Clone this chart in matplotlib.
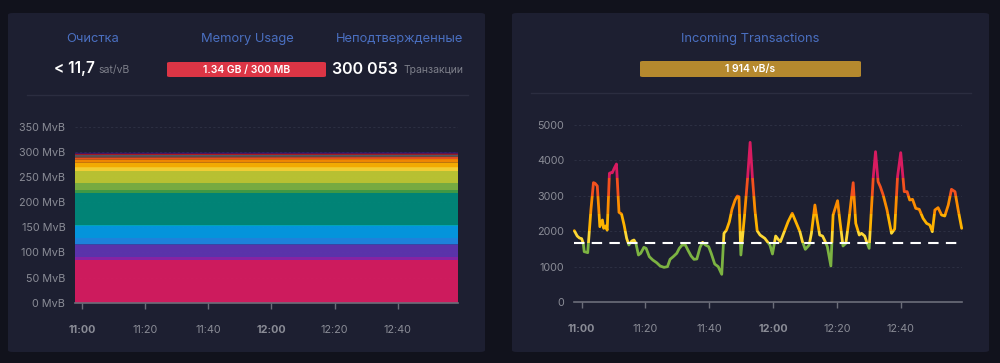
import numpy as np
import matplotlib
matplotlib.use('Agg')
from matplotlib import pyplot as plt
from matplotlib.patches import FancyBboxPatch, Rectangle
from matplotlib.lines import Line2D

plt.rcParams['font.family'] = ['Inter', 'DejaVu Sans']

# ---------------- data ----------------
# mempool fee bands (MvB), bottom -> top, read at 11:00 and at 12:59
band_colors = ['#D81B60', '#8E24AA', '#5E35B1', '#3949AB', '#1E88E5', '#039BE5',
               '#00ACC1', '#00897B', '#43A047', '#7CB342', '#C0CA33', '#FDD835',
               '#FFB300', '#FB8C00', '#F4511E', '#6D4C41', '#757575', '#546E7A',
               '#b71c1c', '#880E4F', '#4A148C', '#311B92']
mem_start = [85, 6.5, 23, 1.5, 12, 25.5, 1, 63, 6.5, 13.4, 25, 6.8,
             9.1, 6.7, 4, 2, 1, 1.5, 2, 1, 0.8, 0.8]
mem_end = [85, 6.5, 23, 1.5, 12, 25.5, 1, 63, 6.5, 13.4, 25, 6.8,
           9.6, 6.9, 4, 2, 1, 1.5, 2, 1, 0.8, 0.8]
mem_times = [-2.2, 119.1]  # minutes after 11:00

# incoming transactions (vB/s), minutes after 11:00
tx_times = [-2.3, -1.4, -0.7, 0.0, 0.5, 0.8, 1.9, 2.9, 3.7, 4.2, 4.9, 5.7, 6.5, 6.9,
            7.5, 8.0, 8.7, 9.1, 9.6, 10.2, 10.9, 11.7, 12.5, 13.3, 14.1, 14.8, 15.7,
            16.4, 17.0, 17.8, 18.5, 19.5, 20.2, 21.2, 22.3, 23.5, 24.6, 25.8, 26.9,
            27.7, 28.7, 29.8, 30.6, 31.5, 32.5, 33.4, 34.3, 35.2, 36.1, 37.1, 37.9,
            38.8, 39.8, 40.6, 41.7, 42.8, 43.9, 44.6, 45.4, 46.3, 47.1, 48.1, 48.8,
            49.3, 49.9, 51.0, 52.0, 52.8, 53.5, 54.3, 55.0, 55.9, 57.4, 59.0, 59.8,
            60.8, 61.6, 62.3, 63.7, 64.7, 66.0, 67.1, 68.4, 69.2, 70.1, 71.3, 72.0,
            73.1, 73.8, 74.6, 75.5, 76.2, 77.0, 78.1, 78.8, 80.2, 80.9, 81.9, 82.8,
            83.7, 85.1, 85.9, 87.0, 87.7, 88.7, 89.3, 90.1, 90.8, 91.4, 92.1, 92.9,
            93.6, 94.5, 95.7, 97.1, 98.1, 99.0, 100.0, 101.1, 102.0, 102.8, 103.7,
            104.7, 105.8, 107.0, 108.1, 109.1, 109.9, 110.7, 111.7, 112.8, 113.8,
            114.9, 115.9, 117.0, 118.0, 119.1]
tx_vsize = [2015, 1864, 1808, 1789, 1657, 1422, 1394, 2599, 3371, 3352, 3277, 2128,
            2316, 2081, 2150, 2030, 3635, 3653, 3650, 3776, 3898, 2533, 2486, 2175,
            1798, 1610, 1723, 1751, 1657, 1328, 1375, 1544, 1516, 1281, 1186, 1111,
            1017, 979, 998, 1205, 1281, 1375, 1516, 1610, 1610, 1450, 1300, 1205,
            1215, 1544, 1685, 1610, 1563, 1375, 1073, 998, 782, 1940, 2034, 2269,
            2618, 2881, 2994, 2975, 1328, 2400, 3500, 4510, 3540, 2600, 2015, 1893,
            1798, 1610, 1356, 1864, 1770, 1704, 2034, 2269, 2505, 2269, 1987, 1704,
            1488, 1610, 1940, 2740, 2316, 1893, 1864, 1733, 1563, 1017, 2458, 2862,
            2316, 1582, 1657, 2269, 3371, 2222, 1893, 1940, 1864, 1704, 1516, 2599,
            3540, 4247, 3399, 3258, 3022, 2599, 1940, 2062, 3540, 4219, 3117, 3117,
            2881, 2900, 2646, 2618, 2363, 2222, 2175, 1987, 2599, 2665, 2458, 2429,
            2740, 3183, 3117, 2599, 2081]
tx_target = 1667

# colour pieces for the incoming line (lower, upper, colour)
tx_pieces = [(0, 1667, '#7CB342'), (1667, 2000, '#FDD835'), (2000, 2500, '#FFB300'),
             (2500, 3000, '#FB8C00'), (3000, 3500, '#F4511E'), (3500, 6000, '#D81B60')]

tick_pos = [0, 20, 40, 60, 80, 100]
tick_lab = ['11:00', '11:20', '11:40', '12:00', '12:20', '12:40']

# ---------------- styling ----------------
W, H = 1000, 363
BG = '#11121c'
CARD = '#1d1f31'
TITLE = '#4a6fc0'
TICK = '#8a8c96'
GREY = '#7d7f8a'


def fx(x):
	return x / W


def fy(y):
	return 1 - y / H


def add_axes(l, t, r, b):
	return fig.add_axes([fx(l), fy(b), (r - l) / W, (b - t) / H])


fig = plt.figure(figsize=(W / 100, H / 100), dpi=100)
fig.patch.set_facecolor(BG)

# cards (behind the axes)
for l, r in [(8, 485), (512, 989)]:
	card = FancyBboxPatch((fx(l), fy(352)), (r - l) / W, (352 - 13) / H,
	                      boxstyle='round,pad=0,rounding_size=0.005',
	                      transform=fig.transFigure, facecolor=CARD, edgecolor='none',
	                      zorder=-10)
	fig.patches.append(card)

# dividers
fig.add_artist(Line2D([fx(27), fx(468)], [fy(95), fy(95)], color='#2b2d40', lw=1))
fig.add_artist(Line2D([fx(531), fx(971)], [fy(93), fy(93)], color='#2b2d40', lw=1))

# header texts, left card
fig.text(fx(93), fy(39), 'Очистка', color=TITLE, fontsize=9.3, ha='center', va='center')
fig.text(fx(247), fy(39), 'Memory Usage', color=TITLE, fontsize=9.3, ha='center', va='center')
fig.text(fx(400), fy(39), 'Неподтвержденные', color=TITLE, fontsize=9.3, ha='center', va='center')

fig.text(fx(95), fy(69), '< 11,7', color='white', fontsize=11, fontweight='semibold',
         ha='right', va='center')
fig.text(fx(98), fy(70), 'sat/vB', color=GREY, fontsize=7.5, ha='left', va='center')

bar = FancyBboxPatch((fx(167), fy(77)), 159 / W, 15 / H,
                     boxstyle='round,pad=0,rounding_size=0.003',
                     transform=fig.transFigure, facecolor='#dc3545', edgecolor='none')
fig.patches.append(bar)
fig.text(fx(246.5), fy(69.5), '1.34 GB / 300 MB', color='white', fontsize=7.5,
         fontweight='semibold', ha='center', va='center')

fig.text(fx(398), fy(69), '300 053', color='white', fontsize=11.5, fontweight='semibold',
         ha='right', va='center')
fig.text(fx(404), fy(70), 'Транзакции', color=GREY, fontsize=7.5, ha='left', va='center')

# header texts, right card
fig.text(fx(750.5), fy(39), 'Incoming Transactions', color=TITLE, fontsize=9.3,
         ha='center', va='center')
bar2 = FancyBboxPatch((fx(640), fy(77)), 221 / W, 16 / H,
                      boxstyle='round,pad=0,rounding_size=0.003',
                      transform=fig.transFigure, facecolor='#b5892e', edgecolor='none')
fig.patches.append(bar2)
fig.text(fx(750.5), fy(69), '1 914 vB/s', color='white', fontsize=7.5,
         fontweight='semibold', ha='center', va='center')


def style_axes(ax):
	ax.set_facecolor('none')
	for s in ['top', 'right', 'left']:
		ax.spines[s].set_visible(False)
	ax.spines['bottom'].set_color('#6c6e7a')
	ax.spines['bottom'].set_linewidth(1.2)
	ax.tick_params(axis='y', length=0, colors=TICK, labelsize=7.8, pad=7)
	ax.tick_params(axis='x', length=4, width=1, color='#6c6e7a', colors=TICK,
	               labelsize=7.8, pad=12)
	ax.set_xticks(tick_pos)
	ax.set_xticklabels(tick_lab)
	for lab in ax.get_xticklabels():
		if lab.get_text().endswith(':00'):
			lab.set_fontweight('bold')
	ax.grid(axis='y', color='#2c2f42', linestyle=(0, (2, 2)), linewidth=0.8)
	ax.set_axisbelow(True)


# ---------------- memory chart ----------------
ax1 = add_axes(75, 126.7, 458, 302.7)
mem_layers = [[a, b] for a, b in zip(mem_start, mem_end)]
ax1.stackplot(mem_times, mem_layers, colors=band_colors, linewidth=0, alpha=0.95)
ax1.set_xlim(-2.2, 119.1)
ax1.set_ylim(0, 350)
ax1.set_yticks(np.arange(0, 351, 50))
ax1.set_yticklabels(['%d MvB' % v for v in np.arange(0, 351, 50)])
style_axes(ax1)

# ---------------- incoming chart ----------------
ax2 = add_axes(574, 125, 962, 302)
ax2.set_xlim(-2.4, 119.2)
ax2.set_ylim(0, 5000)
for lo, hi, col in tx_pieces:
	ln, = ax2.plot(tx_times, tx_vsize, color=col, lw=2.0, solid_joinstyle='round',
	               solid_capstyle='round', zorder=3)
	clip = Rectangle((-10, lo), 140, hi - lo, transform=ax2.transData)
	ln.set_clip_path(clip)
ax2.axhline(tx_target, color='white', lw=1.5, linestyle=(0, (5, 3.5)), zorder=4)
ax2.set_yticks(np.arange(0, 5001, 1000))
style_axes(ax2)

plt.savefig('out.png', dpi=100, facecolor=BG)
